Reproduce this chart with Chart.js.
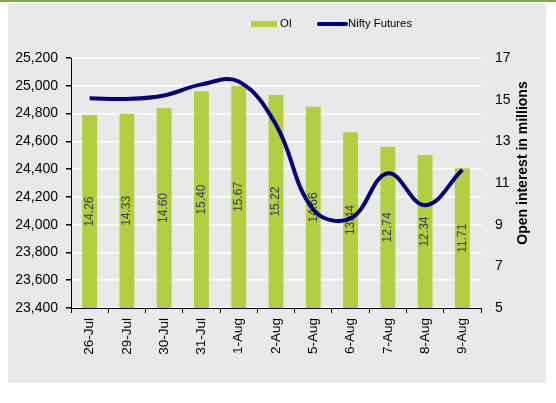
<!DOCTYPE html>
<html>
<head>
<meta charset="utf-8">
<script src="https://cdn.jsdelivr.net/npm/chart.js@4.4.1/dist/chart.umd.min.js"></script>
<style>
  html, body { margin: 0; padding: 0; background: #ffffff; }
  #topRule { position: absolute; left: 0; top: 0; width: 556px; height: 2px; background: #72b043; }
  #panel { position: absolute; left: 8px; top: 4px; width: 538px; height: 379px; background: #e9e9e9; }
</style>
</head>
<body>
<div id="topRule"></div>
<div id="panel"><canvas id="oiChart" width="538" height="379"></canvas></div>
<script>
const dates = ['26-Jul', '29-Jul', '30-Jul', '31-Jul', '1-Aug', '2-Aug', '5-Aug', '6-Aug', '7-Aug', '8-Aug', '9-Aug'];
const oiValues = [14.26, 14.33, 14.60, 15.40, 15.67, 15.22, 14.66, 13.44, 12.74, 12.34, 11.71];
const niftyFutures = [24910, 24905, 24930, 25010, 25030, 24720, 24110, 24045, 24370, 24140, 24395];
const priceAxis = { min: 23400, max: 25200, step: 200 };
const oiAxis = { min: 5, max: 17, step: 2 };

const FONT = "'Liberation Sans', Arial, sans-serif";
const OI_GREEN = '#b3ce3f';
const NAVY = '#000080';

// values written inside each bar, rotated
const barLabels = {
    id: 'barLabels',
    afterDatasetDraw(chart, args) {
        if (args.index !== 0) return;
        const ctx = chart.ctx;
        const bottom = chart.chartArea.bottom;
        ctx.save();
        ctx.font = '12px ' + FONT;
        ctx.fillStyle = '#333d52';
        ctx.textAlign = 'center';
        ctx.textBaseline = 'middle';
        args.meta.data.forEach((bar, i) => {
            const { x, y } = bar.getProps(['x', 'y'], true);
            ctx.save();
            ctx.translate(x, (y + bottom) / 2);
            ctx.rotate(-Math.PI / 2);
            ctx.fillText(oiValues[i].toFixed(2), 0, 0);
            ctx.restore();
        });
        ctx.restore();
    }
};

// right axis title reads bottom-to-top, legend sits right of centre
const extras = {
    id: 'extras',
    afterDraw(chart) {
        const ctx = chart.ctx;
        ctx.save();
        ctx.font = 'bold 14px ' + FONT;
        ctx.fillStyle = '#000';
        ctx.textAlign = 'center';
        ctx.textBaseline = 'middle';
        ctx.translate(515, 159);
        ctx.rotate(-Math.PI / 2);
        ctx.fillText('Open interest in millions', 0, 0);
        ctx.restore();

        ctx.save();
        ctx.font = '11.3px ' + FONT;
        ctx.textBaseline = 'middle';
        const ly = 20;
        let lx = 243;
        ctx.fillStyle = OI_GREEN;
        ctx.fillRect(lx, ly - 3, 26, 6);
        ctx.fillStyle = '#000';
        ctx.fillText(chart.data.datasets[0].label, lx + 29, ly);
        lx = 311;
        ctx.strokeStyle = NAVY;
        ctx.lineWidth = 4;
        ctx.lineCap = 'round';
        ctx.beginPath();
        ctx.moveTo(lx, ly);
        ctx.lineTo(lx + 27, ly);
        ctx.stroke();
        ctx.fillText(chart.data.datasets[1].label, lx + 29, ly);
        ctx.restore();
    }
};

new Chart(document.getElementById('oiChart'), {
    data: {
        labels: dates,
        datasets: [
            {
                type: 'bar',
                label: 'OI',
                data: oiValues,
                yAxisID: 'y1',
                backgroundColor: OI_GREEN,
                categoryPercentage: 1,
                barPercentage: 0.4,
                order: 1
            },
            {
                type: 'line',
                label: 'Nifty Futures',
                data: niftyFutures,
                yAxisID: 'y',
                borderColor: NAVY,
                backgroundColor: NAVY,
                borderWidth: 4,
                pointRadius: 0,
                tension: 0.4,
                fill: false,
                order: 0
            }
        ]
    },
    options: {
        responsive: false,
        animation: false,
        devicePixelRatio: 1,
        layout: { padding: { top: 54, left: 0, right: 0, bottom: 0 } },
        plugins: {
            legend: { display: false },
            tooltip: { enabled: false }
        },
        scales: {
            x: {
                offset: true,
                grid: {
                    offset: true,
                    drawOnChartArea: false,
                    tickColor: '#000',
                    tickLength: 5
                },
                border: { display: true, color: '#000', width: 1 },
                ticks: {
                    color: '#000',
                    font: { family: FONT, size: 13.5 },
                    minRotation: 90,
                    maxRotation: 90,
                    padding: 5,
                    autoSkip: false
                },
                afterFit(axis) { axis.height = 75; }
            },
            y: {
                position: 'left',
                min: priceAxis.min,
                max: priceAxis.max,
                grid: {
                    color: '#ffffff',
                    lineWidth: 1.5,
                    tickColor: '#000',
                    tickLength: 5
                },
                border: { display: true, color: '#000', width: 1 },
                ticks: {
                    stepSize: priceAxis.step,
                    color: '#000',
                    font: { family: FONT, size: 14 },
                    padding: 8,
                    callback: v => v.toLocaleString('en-US')
                },
                afterFit(axis) { axis.width = 63; }
            },
            y1: {
                position: 'right',
                min: oiAxis.min,
                max: oiAxis.max,
                grid: { drawOnChartArea: false, drawTicks: false },
                border: { display: false },
                ticks: {
                    stepSize: oiAxis.step,
                    color: '#000',
                    font: { family: FONT, size: 14 },
                    padding: 14
                },
                afterFit(axis) { axis.width = 65; }
            }
        }
    },
    plugins: [barLabels, extras]
});
</script>
</body>
</html>
